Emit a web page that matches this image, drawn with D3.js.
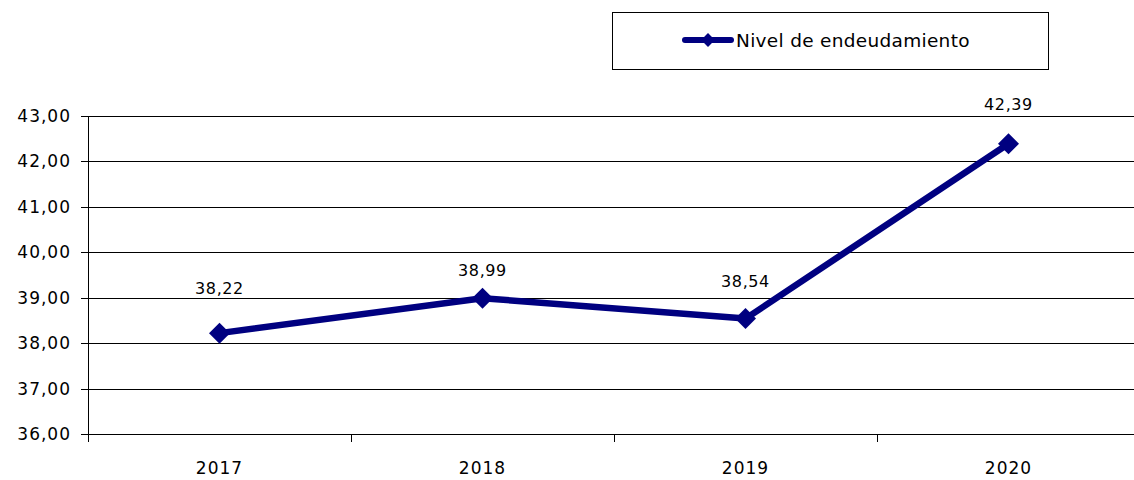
<!DOCTYPE html>
<html>
<head>
<meta charset="utf-8">
<script src="https://cdnjs.cloudflare.com/ajax/libs/d3/7.8.5/d3.min.js"></script>
<style>
    body { margin: 0; background: #fff; }
    svg { display: block; }
    text { font-family: "DejaVu Sans", sans-serif; fill: #000; }
    .axis text { font-size: 17px; letter-spacing: 1px; }
    .label { font-size: 16px; letter-spacing: 0.6px; }
    .legend text { font-size: 18.5px; letter-spacing: 0.3px; }
</style>
</head>
<body>
<div id="chart"></div>
<script>
var years = ["2017", "2018", "2019", "2020"];
var values = [38.22, 38.99, 38.54, 42.39];
var yTicks = [36, 37, 38, 39, 40, 41, 42, 43];
var seriesName = "Nivel de endeudamiento";

// per-label vertical offsets above the markers (labels were placed by hand)
var labelOffsets = [39, 22, 32, 34];

var width = 1134
    , height = 480
    , color = "#000080"
    , plotLeft = 88
    , plotRight = 1140
    , plotTop = 116
    , plotBottom = 434
    ;

var fmt = function(v) { return v.toFixed(2).replace(".", ","); };

var svg = d3.select("#chart")
    .append("svg")
    .attr("width", width)
    .attr("height", height);

var x = d3.scaleBand()
    .domain(years)
    .range([plotLeft, plotRight]);

var y = d3.scaleLinear()
    .domain([36, 43])
    .range([plotBottom, plotTop]);

// gridlines
svg.append("g")
    .selectAll("line")
    .data(yTicks)
    .enter().append("line")
    .attr("x1", plotLeft - 7)
    .attr("x2", width)
    .attr("y1", function(d) { return Math.round(y(d)) + 0.5; })
    .attr("y2", function(d) { return Math.round(y(d)) + 0.5; })
    .attr("stroke", "#000")
    .attr("shape-rendering", "crispEdges");

// y axis
var yAxis = d3.axisLeft(y)
    .tickValues(yTicks)
    .tickSizeOuter(0)
    .tickSizeInner(0)
    .tickPadding(17)
    .tickFormat(fmt);

var gY = svg.append("g")
    .attr("class", "axis axis--y")
    .attr("transform", "translate(" + plotLeft + ",0)")
    .call(yAxis);
gY.select(".domain").remove();
gY.selectAll(".tick line").remove();

svg.append("line")
    .attr("x1", plotLeft + 0.5).attr("x2", plotLeft + 0.5)
    .attr("y1", plotTop).attr("y2", plotBottom + 8)
    .attr("stroke", "#000")
    .attr("shape-rendering", "crispEdges");

// x axis: category boundaries as ticks
var bounds = years.slice(1).map(function(d) { return x(d); });
svg.append("g")
    .selectAll("line")
    .data(bounds)
    .enter().append("line")
    .attr("x1", function(d) { return Math.round(d) + 0.5; })
    .attr("x2", function(d) { return Math.round(d) + 0.5; })
    .attr("y1", plotBottom)
    .attr("y2", plotBottom + 8)
    .attr("stroke", "#000")
    .attr("shape-rendering", "crispEdges");

svg.append("g")
    .attr("class", "axis axis--x")
    .selectAll("text")
    .data(years)
    .enter().append("text")
    .attr("x", function(d) { return x(d) + x.bandwidth() / 2; })
    .attr("y", plotBottom + 40)
    .attr("text-anchor", "middle")
    .text(function(d) { return d; });

// series
var pts = years.map(function(d, i) { return { year: d, value: values[i], dy: labelOffsets[i] }; });

var line = d3.line()
    .x(function(d) { return x(d.year) + x.bandwidth() / 2; })
    .y(function(d) { return y(d.value); });

svg.append("path")
    .datum(pts)
    .attr("fill", "none")
    .attr("stroke", color)
    .attr("stroke-width", 6.5)
    .attr("stroke-linejoin", "round")
    .attr("d", line);

var diamond = d3.symbol().type(d3.symbolSquare).size(220);

svg.append("g")
    .selectAll("path")
    .data(pts)
    .enter().append("path")
    .attr("d", diamond)
    .attr("fill", color)
    .attr("transform", function(d) {
        return "translate(" + (x(d.year) + x.bandwidth() / 2) + "," + y(d.value) + ") rotate(45)";
    });

svg.append("g")
    .selectAll("text")
    .data(pts)
    .enter().append("text")
    .attr("class", "label")
    .attr("x", function(d) { return x(d.year) + x.bandwidth() / 2; })
    .attr("y", function(d) { return y(d.value) - d.dy; })
    .attr("text-anchor", "middle")
    .text(function(d) { return fmt(d.value); });

// legend
var legend = svg.append("g")
    .attr("class", "legend")
    .attr("transform", "translate(612,12)");

legend.append("rect")
    .attr("x", 0.5).attr("y", 0.5)
    .attr("width", 436).attr("height", 57)
    .attr("fill", "#fff")
    .attr("stroke", "#000")
    .attr("shape-rendering", "crispEdges");

legend.append("line")
    .attr("x1", 73).attr("x2", 119)
    .attr("y1", 28).attr("y2", 28)
    .attr("stroke", color)
    .attr("stroke-width", 6)
    .attr("stroke-linecap", "round");

legend.append("path")
    .attr("d", d3.symbol().type(d3.symbolSquare).size(95))
    .attr("fill", color)
    .attr("transform", "translate(96,28) rotate(45)");

legend.append("text")
    .attr("x", 124)
    .attr("y", 35)
    .text(seriesName);
</script>
</body>
</html>
